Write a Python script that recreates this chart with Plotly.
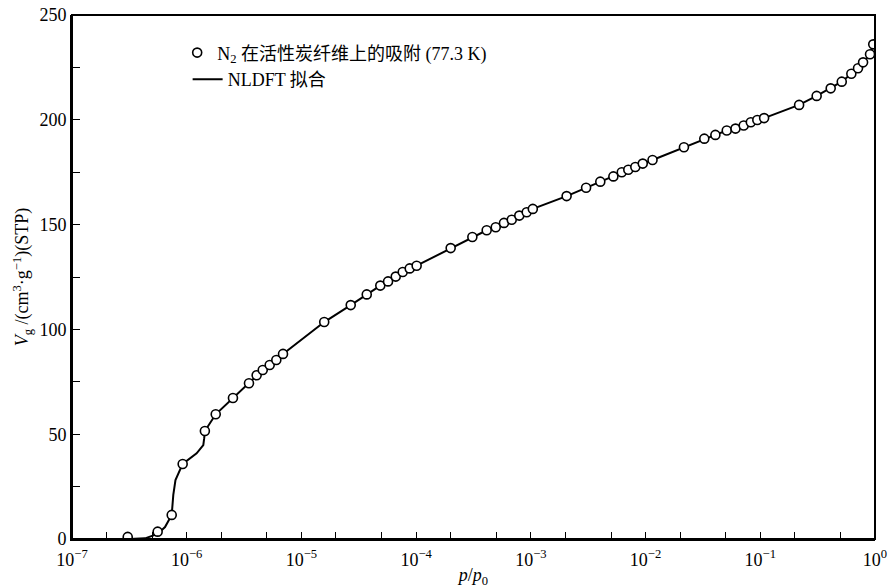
import plotly.graph_objects as go

# Measured adsorption points: relative pressure p/p0 and adsorbed volume (cm3/g STP)
p_data = [3.06e-7, 5.58e-7, 7.40e-7, 9.22e-7, 1.44e-6, 1.79e-6, 2.53e-6, 3.49e-6,
          4.07e-6, 4.60e-6, 5.29e-6, 6.04e-6, 6.91e-6, 1.58e-5, 2.69e-5, 3.71e-5,
          4.87e-5, 5.69e-5, 6.64e-5, 7.64e-5, 8.79e-5, 1.01e-4, 2.00e-4, 3.09e-4,
          4.12e-4, 4.94e-4, 5.83e-4, 6.81e-4, 7.93e-4, 9.20e-4, 1.04e-3, 2.05e-3,
          3.03e-3, 4.03e-3, 5.24e-3, 6.20e-3, 7.07e-3, 8.14e-3, 9.45e-3, 1.15e-2,
          2.16e-2, 3.25e-2, 4.06e-2, 5.10e-2, 6.08e-2, 7.17e-2, 8.27e-2, 9.42e-2,
          0.108, 0.218, 0.310, 0.411, 0.513, 0.622, 0.711, 0.787, 0.905, 0.965]
v_data = [1.0, 3.5, 11.5, 35.8, 51.5, 59.5, 67.3, 74.3,
          78.1, 80.6, 83.0, 85.4, 88.3, 103.5, 111.6, 116.7,
          120.9, 122.9, 125.2, 127.4, 129.1, 130.4, 138.8, 144.1,
          147.3, 148.7, 150.8, 152.3, 154.3, 155.9, 157.5, 163.6,
          167.6, 170.5, 173.0, 175.0, 176.2, 177.5, 179.1, 180.8,
          186.9, 191.0, 192.8, 194.9, 195.8, 197.3, 198.8, 199.9,
          200.8, 207.1, 211.4, 215.0, 218.2, 222.0, 224.6, 227.4, 231.3, 236.0]

# NLDFT fit curve
p_fit = [3.20e-7, 4.33e-7, 5.58e-7, 6.47e-7, 7.40e-7, 7.64e-7, 7.98e-7, 9.22e-7,
         1.22e-6, 1.395e-6, 1.42e-6, 1.44e-6, 1.79e-6, 2.53e-6, 3.49e-6, 4.07e-6,
         4.60e-6, 5.29e-6, 6.04e-6, 6.91e-6, 1.58e-5, 2.69e-5, 3.71e-5, 4.87e-5,
         5.69e-5, 6.64e-5, 7.64e-5, 8.79e-5, 1.01e-4, 2.00e-4, 3.09e-4, 4.12e-4,
         4.94e-4, 5.83e-4, 6.81e-4, 7.93e-4, 9.20e-4, 1.04e-3, 2.05e-3, 3.03e-3,
         4.03e-3, 5.24e-3, 6.20e-3, 7.07e-3, 8.14e-3, 9.45e-3, 1.15e-2, 2.16e-2,
         3.25e-2, 4.06e-2, 5.10e-2, 6.08e-2, 7.17e-2, 8.27e-2, 9.42e-2, 0.108,
         0.218, 0.310, 0.411, 0.513, 0.622, 0.711, 0.787, 0.905, 0.965]
v_fit = [0.0, 0.3, 2.4, 5.7, 11.5, 21.0, 28.1, 35.8,
         40.9, 44.8, 48.0, 51.5, 59.5, 67.3, 74.3, 78.1,
         80.6, 83.0, 85.4, 88.3, 103.5, 111.6, 116.7, 120.9,
         122.9, 125.2, 127.4, 129.1, 130.4, 138.8, 144.1, 147.3,
         148.7, 150.8, 152.3, 154.3, 155.9, 157.5, 163.6, 167.6,
         170.5, 173.0, 175.0, 176.2, 177.5, 179.1, 180.8, 186.9,
         191.0, 192.8, 194.9, 195.8, 197.3, 198.8, 199.9, 200.8,
         207.1, 211.4, 215.0, 218.2, 222.0, 224.6, 227.4, 231.3, 236.0]

x_tickvals = [1e-7, 1e-6, 1e-5, 1e-4, 1e-3, 1e-2, 1e-1, 1]
x_ticktext = ["10<sup>−7</sup>", "10<sup>−6</sup>", "10<sup>−5</sup>", "10<sup>−4</sup>",
              "10<sup>−3</sup>", "10<sup>−2</sup>", "10<sup>−1</sup>", "10<sup>0</sup>"]
y_tickvals = [0, 50, 100, 150, 200, 250]

FONT = "Liberation Serif, Noto Sans CJK SC, serif"

fig = go.Figure()
fig.add_trace(go.Scatter(
    x=p_fit, y=v_fit, mode="lines", name="NLDFT 拟合",
    line=dict(color="black", width=2), legend="legend2"))
fig.add_trace(go.Scatter(
    x=p_data, y=v_data, mode="markers",
    name="N<sub>2</sub> 在活性炭纤维上的吸附 (77.3 K)",
    marker=dict(symbol="circle", size=9, color="white",
                line=dict(color="black", width=1.6)),
    legend="legend"))

fig.update_layout(
    width=894, height=588,
    margin=dict(l=72, r=19, t=15, b=49, autoexpand=False),
    paper_bgcolor="white", plot_bgcolor="white",
    font=dict(family=FONT, size=18, color="black"),
    showlegend=True,
    legend=dict(x=0.131, y=0.963, xanchor="left", yanchor="top",
                bgcolor="rgba(0,0,0,0)", font=dict(size=18, family=FONT)),
    legend2=dict(x=0.144, y=0.912, xanchor="left", yanchor="top",
                 bgcolor="rgba(0,0,0,0)", font=dict(size=18, family=FONT)),
    xaxis=dict(
        type="log", range=[-7, 0], automargin=False,
        tickvals=x_tickvals, ticktext=x_ticktext,
        ticks="inside", ticklen=7, tickwidth=1.2, tickcolor="black",
        minor=dict(ticks="inside", ticklen=7, tickwidth=1.2, tickcolor="black", showgrid=False),
        showline=True, linecolor="black", linewidth=2, mirror=False,
        showgrid=False, zeroline=False, ticklabeloverflow="allow",
        ticklabelstandoff=3,
        title=dict(text="<i>p</i>/<i>p</i><sub>0</sub>", standoff=6,
                   font=dict(size=18, family=FONT)),
        tickfont=dict(size=18, family=FONT)),
    yaxis=dict(
        range=[0, 250], tickvals=y_tickvals, automargin=False,
        ticks="inside", ticklen=8, tickwidth=1.2, tickcolor="black",
        minor=dict(ticks="inside", ticklen=8, tickwidth=1.2, tickcolor="black",
                   dtick=25, tick0=0, showgrid=False),
        showline=True, linecolor="black", linewidth=2, mirror=False,
        showgrid=False, zeroline=False, ticklabeloverflow="allow",
        title=dict(text="<i>V</i><sub>g</sub> /(cm<sup>3</sup>·g<sup>−1</sup>)(STP)",
                   standoff=6, font=dict(size=18, family=FONT)),
        tickfont=dict(size=18, family=FONT)),
    shapes=[dict(type="rect", xref="paper", yref="paper", x0=0, y0=0, x1=1, y1=1,
                 line=dict(color="black", width=2), layer="above")],
)

# remove the browser's default 8px body margin so the figure fills the window
fig.write_html("out.html", config={"displayModeBar": False},
               post_script="document.body.style.margin='0px';")
